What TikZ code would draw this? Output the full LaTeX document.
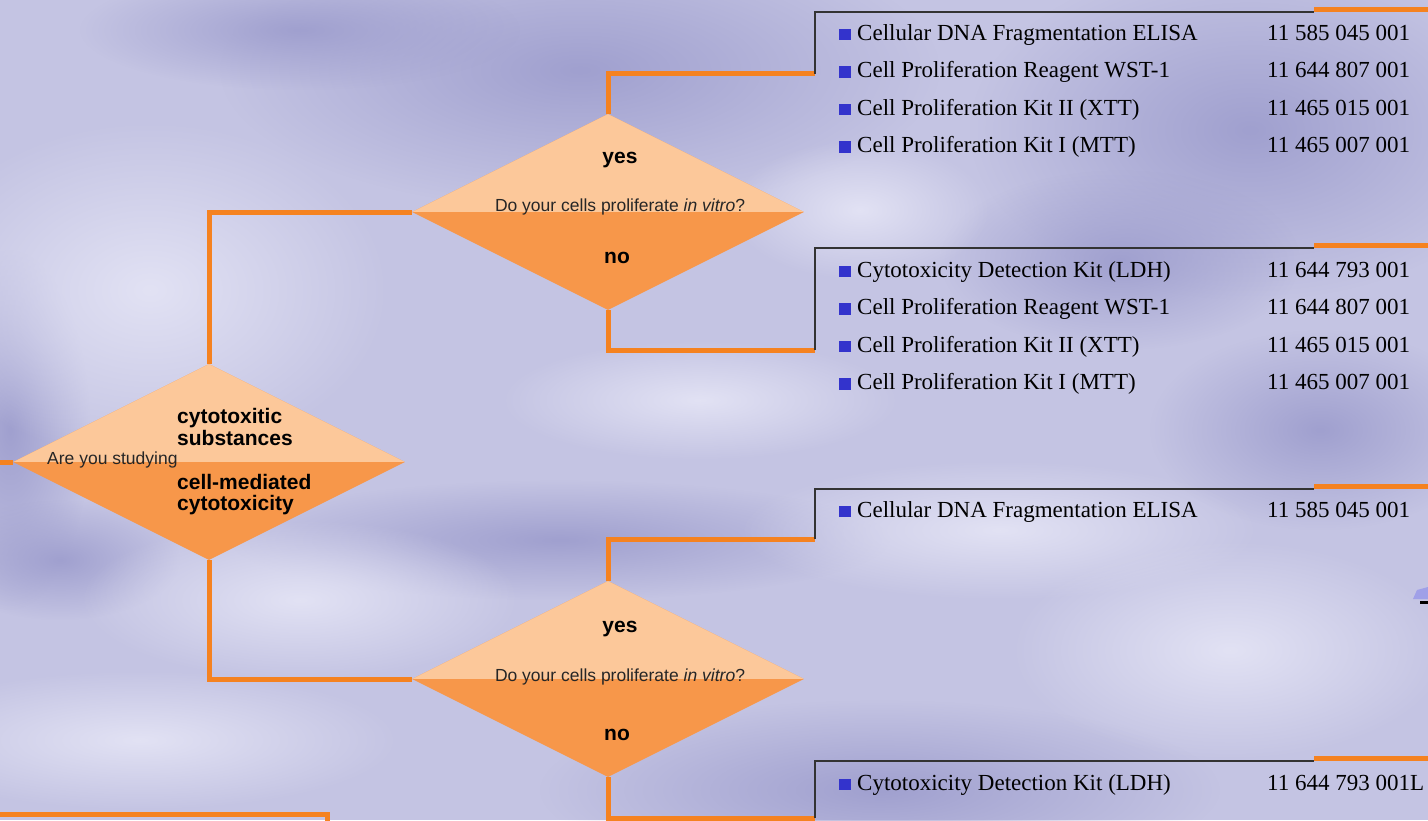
\documentclass[tikz,border=0pt]{standalone}
\usepackage{fontspec}
\setmainfont{Liberation Serif}
\newfontfamily\labfont{Liberation Sans}
\usetikzlibrary{shapes.geometric,fadings}
\definecolor{lavender}{RGB}{196,196,227}
\definecolor{lavdark}{RGB}{160,160,207}
\definecolor{lavlight}{RGB}{226,226,244}
\definecolor{lavblue}{RGB}{160,160,232}
\definecolor{peach}{RGB}{252,200,154}
\definecolor{deco}{RGB}{247,151,74}
\definecolor{barorange}{RGB}{245,130,32}
\definecolor{bulblue}{RGB}{51,51,204}
\newcommand{\bul}{\textcolor{bulblue}{\rule{11.5pt}{11.5pt}}\hspace{6.5pt}}
\tikzfading[name=blobfade, inner color=transparent!0, outer color=transparent!100]
\pgfdeclarelayer{bg}
\pgfsetlayers{bg,main}

\begin{document}
\begin{tikzpicture}[x=1pt,y=-1pt,
  decision/.style={diamond,minimum width=392pt,minimum height=196pt,inner sep=0pt,fill=deco,
    path picture={\fill[peach] (path picture bounding box.north west) rectangle (path picture bounding box.east);}},
  link/.style={barorange,line width=5pt},
  frame/.style={black!80,line width=1.5pt},
  item/.style={anchor=base west,inner sep=0pt,font=\fontsize{23}{26}\selectfont},
  ask/.style={inner sep=0pt,text=black!85,font=\labfont\fontsize{17.5}{20}\selectfont},
  lab/.style={inner sep=0pt,font=\labfont\bfseries\fontsize{21}{22}\selectfont}]
\useasboundingbox (0,0) rectangle (1428,820);
\clip (0,0) rectangle (1428,820);
%
\begin{pgfonlayer}{bg}
\fill[lavender] (0,0) rectangle (1428,820);
\foreach \x/\y/\rx/\ry in {580/70/360/140, 1250/130/280/170, 1120/260/180/90, 10/430/80/180,
  560/540/330/60, 1320/430/170/100, 880/790/340/90, 300/30/220/60, 60/560/120/60}
  \fill[lavdark,path fading=blobfade] (\x,\y) ellipse [x radius=\rx, y radius=\ry];
\foreach \x/\y/\rx/\ry in {150/290/240/170, 300/600/220/80, 1000/530/260/70, 1230/650/220/110,
  140/740/260/70, 860/210/130/70, 700/400/200/60}
  \fill[lavlight,path fading=blobfade] (\x,\y) ellipse [x radius=\rx, y radius=\ry];
\end{pgfonlayer}
%
\node[decision] (dq) at (209,462) {};
\node[decision] (dtop) at (608,212) {};
\node[decision] (dbot) at (608,679) {};
%
\coordinate (qin) at (0,462);
\coordinate (b1) at (815,12);
\coordinate (b1s) at (815,73.5);
\coordinate (b2) at (815,248);
\coordinate (b2s) at (815,350);
\coordinate (b3) at (815,489);
\coordinate (b3s) at (815,539);
\coordinate (b4) at (815,761);
\coordinate (b4s) at (815,818);
\coordinate (c5a) at (0,814);
\coordinate (c5b) at (327,824);
%
\begin{pgfonlayer}{bg}
\draw[link] (dq.west) -- (qin);
\draw[link] (dq.north) |- (dtop.west);
\draw[link] (dq.south) |- (dbot.west);
\draw[link] (dtop.north) |- (b1s);
\draw[link] (dtop.south) |- (b2s);
\draw[link] (dbot.north) |- (b3s);
\draw[link] (dbot.south) |- (b4s);
\draw[link] (c5a) -| (c5b);
\end{pgfonlayer}
%
\foreach \bx in {b1,b2,b3,b4}{
  \draw[frame] (\bx s) -- (\bx) -- ++(499,0) coordinate (\bx e);
  \draw[link] ([yshift=2.5pt]\bx e) -- ++(120,0);
}
%
\node[ask,anchor=base west] (qtxt) at (47,464) {Are you studying};
\node[lab,anchor=base west] (qa1) at (177,423) {cytotoxitic};
\node[lab,anchor=base west] (qa2) at (177,445) {substances};
\node[lab,anchor=base west] (qb1) at (177,489) {cell-mediated};
\node[lab,anchor=base west] (qb2) at (177,510) {cytotoxicity};
%
\node[ask,anchor=base] (ttxt) at (620,211) {Do your cells proliferate \textit{in vitro}?};
\node[lab,anchor=base] (tyes) at (620,163) {yes};
\node[lab,anchor=base] (tno) at (617,263) {no};
\node[ask,anchor=base] (btxt) at (620,681) {Do your cells proliferate \textit{in vitro}?};
\node[lab,anchor=base] (byes) at (620,632) {yes};
\node[lab,anchor=base] (bno) at (617,740) {no};
%
\foreach \txt/\num [count=\i] in {Cellular DNA Fragmentation ELISA/11 585 045 001,
  Cell Proliferation Reagent WST-1/11 644 807 001, Cell Proliferation Kit II (XTT)/11 465 015 001,
  Cell Proliferation Kit I (MTT)/11 465 007 001}{
  \node[item] (b1i\i) at (839,{40+37.5*(\i-1)}) {\bul\txt};
  \node[item] (b1n\i) at (1267,{40+37.5*(\i-1)}) {\num};
}
\foreach \txt/\num [count=\i] in {Cytotoxicity Detection Kit (LDH)/11 644 793 001,
  Cell Proliferation Reagent WST-1/11 644 807 001, Cell Proliferation Kit II (XTT)/11 465 015 001,
  Cell Proliferation Kit I (MTT)/11 465 007 001}{
  \node[item] (b2i\i) at (839,{277+37.5*(\i-1)}) {\bul\txt};
  \node[item] (b2n\i) at (1267,{277+37.5*(\i-1)}) {\num};
}
\node[item] (b3i1) at (839,517) {\bul Cellular DNA Fragmentation ELISA};
\node[item] (b3n1) at (1267,517) {11 585 045 001};
\node[item] (b4i1) at (839,790) {\bul Cytotoxicity Detection Kit (LDH)};
\node[item] (b4n1) at (1267,790) {11 644 793 001L};
%
\fill[lavblue] (1413,599) -- (1417,590) -- (1428,587) -- (1428,599) -- cycle;
\fill[black] (1420,601) rectangle (1428,604);
\end{tikzpicture}
\end{document}
